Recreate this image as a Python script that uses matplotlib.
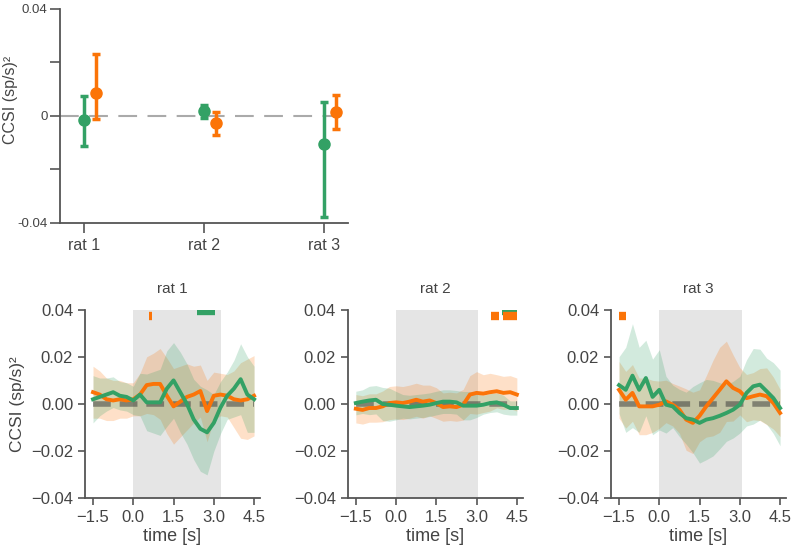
import numpy as np
import matplotlib
matplotlib.use("Agg")
import matplotlib.pyplot as plt
from matplotlib.ticker import FuncFormatter

plt.rcParams['font.family'] = ['Liberation Sans', 'DejaVu Sans']

GREEN = '#33a165'
ORANGE = '#fb7408'
AXC = '#555555'
TXT = '#444444'

# top panel: per-rat mean CCSI with error bars
rats = ['rat 1', 'rat 2', 'rat 3']
green_mean = [-0.0016, 0.0018, -0.0104]
green_lo = [-0.0113, -0.0009, -0.0376]
green_hi = [0.0075, 0.0041, 0.0053]
orange_mean = [0.0084, -0.0026, 0.0015]
orange_lo = [-0.0013, -0.0070, -0.0048]
orange_hi = [0.0231, 0.0016, 0.0080]

# bottom panels: time courses (t = -1.5 ... 4.5, step 0.25)
t = np.arange(-1.5, 4.51, 0.25)

r1_orange = [0.005, 0.004, 0.002, 0.0015, 0.002, 0.0015, 0.002, 0.004, 0.008, 0.0085, 0.0085, 0.0035, -0.001,
             0.001, 0.003, 0.004, 0.0055, -0.003, 0.0035, 0.004, 0.0035, 0.002, 0.0015, 0.002, 0.0035]
r1_orange_err = [0.011, 0.010, 0.009, 0.0085, 0.008, 0.0075, 0.007, 0.009, 0.012, 0.013, 0.015, 0.016, 0.016,
                 0.015, 0.014, 0.012, 0.011, 0.013, 0.010, 0.009, 0.009, 0.012, 0.016, 0.017, 0.017]
r1_green = [0.002, 0.003, 0.004, 0.005, 0.0035, 0.003, 0.0015, 0.004, 0.0007, 0.0007, 0.0007, 0.0065, 0.010,
            0.005, 0.0, -0.0065, -0.0105, -0.012, -0.008, -0.0015, 0.0035, 0.0065, 0.0105, 0.004, 0.002]
r1_green_err = [0.010, 0.008, 0.007, 0.0065, 0.006, 0.006, 0.006, 0.009, 0.012, 0.013, 0.014, 0.016, 0.016,
                0.017, 0.017, 0.017, 0.018, 0.018, 0.012, 0.011, 0.010, 0.012, 0.015, 0.016, 0.014]

r2_orange = [-0.002, -0.0025, -0.0017, -0.0017, -0.001, 0.0004, 0.0007, 0.0004, 0.001, 0.0018, 0.001, 0.0015, 0.0004,
             -0.0013, -0.001, -0.0013, -0.0003, 0.004, 0.0047, 0.0044, 0.005, 0.0054, 0.0047, 0.005, 0.004]
r2_orange_err = [0.006, 0.006, 0.006, 0.006, 0.0065, 0.007, 0.007, 0.007, 0.007, 0.007, 0.007, 0.0065, 0.0065,
                 0.006, 0.006, 0.006, 0.0065, 0.008, 0.009, 0.008, 0.008, 0.007, 0.007, 0.007, 0.007]
r2_green = [0.0004, 0.001, 0.0015, 0.0018, 0.0, -0.0003, -0.0007, -0.001, -0.0013, -0.001, -0.0007, -0.0003, 0.0004,
            0.001, 0.001, 0.0007, -0.0007, -0.0007, -0.0007, -0.0003, 0.0004, 0.0007, -0.0003, -0.0017, -0.0017]
r2_green_err = [0.005, 0.005, 0.006, 0.006, 0.007, 0.007, 0.006, 0.005, 0.005, 0.005, 0.005, 0.005, 0.005,
                0.005, 0.005, 0.005, 0.006, 0.006, 0.005, 0.004, 0.004, 0.004, 0.004, 0.003, 0.003]

r3_orange = [0.006, 0.0018, 0.0047, -0.001, -0.001, -0.001, -0.0003, 0.0011, -0.0003, -0.0024, -0.0066, -0.008, -0.005,
             -0.001, 0.0025, 0.006, 0.0096, 0.0068, 0.0054, 0.0025, 0.0033, 0.004, 0.0033, 0.0004, -0.0038]
r3_orange_err = [0.012, 0.012, 0.012, 0.012, 0.012, 0.011, 0.010, 0.009, 0.009, 0.010, 0.013, 0.013, 0.011,
                 0.013, 0.016, 0.018, 0.017, 0.014, 0.010, 0.010, 0.010, 0.011, 0.012, 0.011, 0.010]
r3_green = [0.008, 0.006, 0.012, 0.006, 0.011, 0.003, 0.006, -0.0003, -0.001, -0.0038, -0.006, -0.0066, -0.008,
            -0.0066, -0.006, -0.005, -0.0038, -0.0024, -0.0003, 0.0047, 0.0075, 0.0082, 0.0054, 0.0025, -0.0017]
r3_green_err = [0.012, 0.018, 0.022, 0.018, 0.016, 0.016, 0.017, 0.012, 0.009, 0.010, 0.011, 0.014, 0.017,
                0.017, 0.016, 0.014, 0.012, 0.012, 0.012, 0.014, 0.016, 0.015, 0.014, 0.015, 0.016]

stim_end = [3.25, 3.07, 3.07]
sig_orange = [[(0.58, 0.68)], [(3.54, 3.85), (3.98, 4.5)], [(-1.5, -1.23)]]
sig_green = [[(2.37, 3.05)], [(3.94, 4.5)], []]

panels = [
    (r1_green, r1_green_err, r1_orange, r1_orange_err),
    (r2_green, r2_green_err, r2_orange, r2_orange_err),
    (r3_green, r3_green_err, r3_orange, r3_orange_err),
]


def style_axes(ax, ticklen):
    for s in ['top', 'right']:
        ax.spines[s].set_visible(False)
    for s in ['left', 'bottom']:
        ax.spines[s].set_color(AXC)
        ax.spines[s].set_linewidth(1.3)
    ax.tick_params(direction='out', length=ticklen, width=1.2, color=AXC, labelcolor=TXT)


def fmt(decimals):
    return FuncFormatter(lambda v, pos: f'{v:.{decimals}f}'.replace('-', '\u2212'))


fig = plt.figure(figsize=(7.94, 5.54), dpi=100)

# ---- top panel
ax = fig.add_axes([0.0756, 0.5975, 0.3627, 0.3865])
style_axes(ax, 7)
x = np.arange(len(rats))
ax.axhline(0, color='#aaaaaa', lw=1.5, dashes=(9, 5), zorder=0)
gm = np.array(green_mean)
om = np.array(orange_mean)
ax.errorbar(x, gm, yerr=[gm - np.array(green_lo), np.array(green_hi) - gm], fmt='o', color=GREEN,
            ms=8, elinewidth=2.5, capsize=3, capthick=2.5)
ax.errorbar(x + 0.1, om, yerr=[om - np.array(orange_lo), np.array(orange_hi) - om], fmt='o', color=ORANGE,
            ms=8, elinewidth=2.5, capsize=3, capthick=2.5)
ax.set_xlim(-0.2, 2.2)
ax.set_ylim(-0.04, 0.04)
ax.set_xticks(x)
ax.set_xticklabels(rats, fontsize=11.5)
ax.set_yticks([-0.04, -0.02, 0, 0.02, 0.04])
ax.set_yticklabels(['-0.04', '', '0', '', '0.04'], fontsize=9.5)
ax.tick_params(axis='y', pad=2)
ax.set_ylabel('CCSI (sp/s)²', fontsize=11.5, color=TXT)
ax.yaxis.set_label_coords(-0.145, 0.575)

# ---- bottom panels
lefts = [0.107, 0.438, 0.7695]
for i, (g, ge, o, oe) in enumerate(panels):
    ax = fig.add_axes([lefts[i], 0.1002, 0.2204, 0.3411])
    style_axes(ax, 5)
    ax.axvspan(0, stim_end[i], color='#e5e5e5', lw=0, zorder=0)
    g = np.array(g); ge = np.array(ge)
    o = np.array(o); oe = np.array(oe)
    ax.fill_between(t, o - oe, o + oe, color=ORANGE, alpha=0.22, lw=0)
    ax.fill_between(t, g - ge, g + ge, color=GREEN, alpha=0.22, lw=0)
    ax.plot([t[0], t[-1]], [0, 0], color='#333333', alpha=0.5, lw=4, dashes=(3.2, 1.6), zorder=3)
    ax.plot(t, o, color=ORANGE, lw=2.8, zorder=4)
    ax.plot(t, g, color=GREEN, lw=2.8, zorder=5)
    for a, b in sig_green[i]:
        ax.plot([a, b], [0.0392, 0.0392], color=GREEN, lw=6, solid_capstyle='butt', zorder=6)
    for a, b in sig_orange[i]:
        ax.plot([a, b], [0.0371, 0.0371], color=ORANGE, lw=6, solid_capstyle='butt', zorder=7)
    ax.set_xlim(-1.8, 4.72)
    ax.set_ylim(-0.04, 0.04)
    ax.set_xticks([-1.5, 0, 1.5, 3.0, 4.5])
    ax.set_yticks([-0.04, -0.02, 0, 0.02, 0.04])
    ax.yaxis.set_major_formatter(fmt(2))
    ax.xaxis.set_major_formatter(fmt(1))
    ax.tick_params(labelsize=12)
    ax.set_xlabel('time [s]', fontsize=13, color=TXT, labelpad=2)
    ax.set_title(f'rat {i + 1}', fontsize=11, color=TXT, pad=12)
    if i == 0:
        ax.set_ylabel('CCSI (sp/s)²', fontsize=12.5, color=TXT, labelpad=4)

fig.savefig('out.png', dpi=100)
